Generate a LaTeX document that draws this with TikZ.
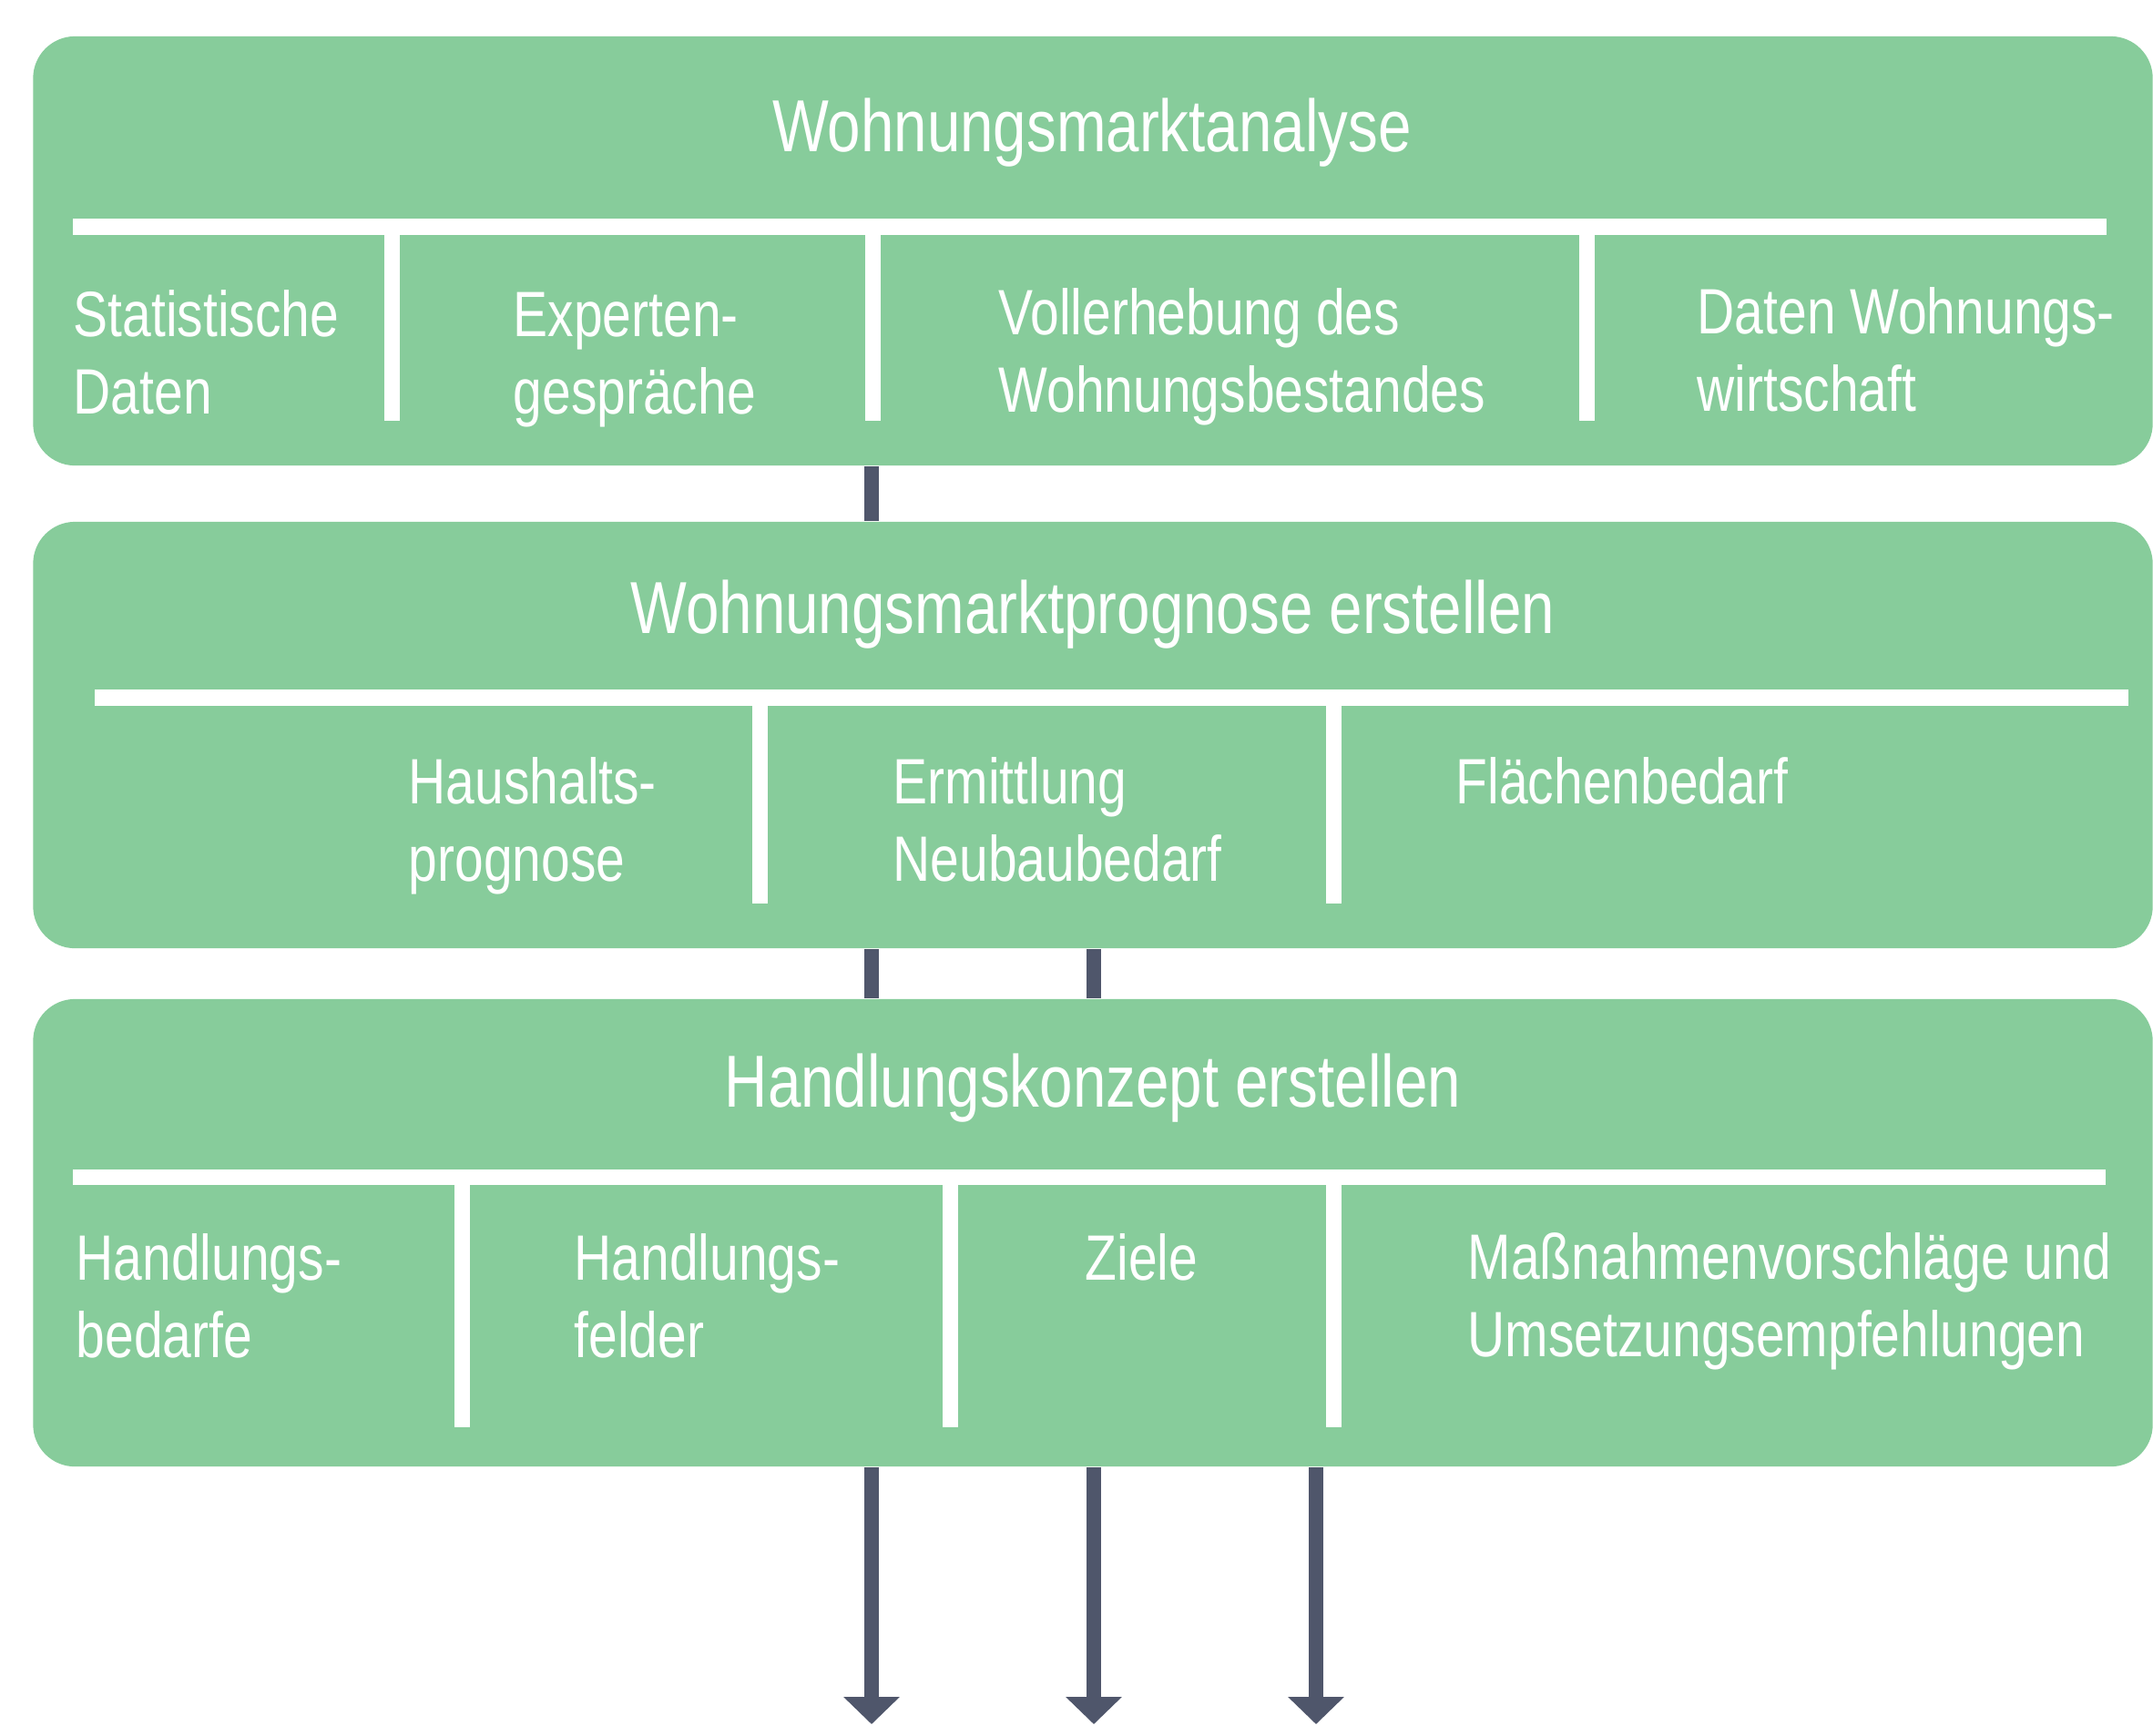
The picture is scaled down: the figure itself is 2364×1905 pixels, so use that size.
\documentclass[tikz,border=0pt]{standalone}
\usepackage{fontspec}
\setmainfont{Liberation Sans}[FakeStretch=0.81]
\usetikzlibrary{arrows.meta}

\definecolor{boxgreen}{RGB}{135,204,155}
\definecolor{pipegray}{RGB}{79,86,107}

\tikzset{
  panel/.style={fill=boxgreen, rounded corners=0.46cm, inner sep=0pt, minimum width=23.26cm},
  heading/.style={text=white, anchor=base, inner sep=0pt, font=\fontsize{23}{27}\selectfont},
  item/.style={text=white, anchor=base west, align=left, inner sep=0pt, font=\fontsize{20}{24.1}\selectfont},
  bar/.style={fill=white},
  link/.style={draw=pipegray, line width=0.16cm},
  outlink/.style={link, -{Triangle[width=0.6cm,length=0.3cm]}}
}

\begin{document}
\begin{tikzpicture}[x=0.01cm,y=-0.01cm]
\useasboundingbox (0,0) rectangle (2364,1905);

\node[panel, minimum height=4.71cm] (ana) at (1200,275.5) {};
\node[panel, minimum height=4.68cm] (prog) at (1200,807) {};
\node[panel, minimum height=5.13cm] (konz) at (1200,1353.5) {};

\coordinate (ca) at (957,0);
\coordinate (cb) at (1201,0);
\coordinate (cc) at (1445,0);
\coordinate (bottom) at (0,1893);

\draw[link] (ca |- ana.south) -- (ca |- prog.north);
\draw[link] (ca |- prog.south) -- (ca |- konz.north);
\draw[link] (cb |- prog.south) -- (cb |- konz.north);
\foreach \c in {ca,cb,cc}
\draw[outlink] (\c |- konz.south) -- (\c |- bottom);

\node[heading] (anaT) at (1199,166) {Wohnungsmarktanalyse};
\fill[bar] (80,240) rectangle (2313,258);
\foreach \x in {422,950,1734}
\fill[bar] (\x,258) rectangle +(17,204);
\node[item] (stat) at (80,454) {Statistische\\Daten};
\node[item] (expe) at (563,454) {Experten-\\gespräche};
\node[item] (voll) at (1096,452) {Vollerhebung des\\Wohnungsbestandes};
\node[item] (wowi) at (1863,451) {Daten Wohnungs-\\wirtschaft};

\node[heading] (progT) at (1200,695) {Wohnungsmarktprognose erstellen};
\fill[bar] (104,757) rectangle (2337,775);
\foreach \x in {826,1456}
\fill[bar] (\x,775) rectangle +(17,217);
\node[item] (haus) at (448,967) {Haushalts-\\prognose};
\node[item] (neub) at (980,967) {Ermittlung\\Neubaubedarf};
\node[item] (flae) at (1598,882) {Flächenbedarf};

\node[heading] (konzT) at (1200,1215) {Handlungskonzept erstellen};
\fill[bar] (80,1284) rectangle (2312,1301);
\foreach \x in {499,1035,1456}
\fill[bar] (\x,1301) rectangle +(17,266);
\node[item] (hbed) at (83,1490) {Handlungs-\\bedarfe};
\node[item] (hfel) at (630,1490) {Handlungs-\\felder};
\node[item] (ziel) at (1191,1405) {Ziele};
\node[item] (mass) at (1611,1489) {Maßnahmenvorschläge und\\Umsetzungsempfehlungen};
\end{tikzpicture}
\end{document}
